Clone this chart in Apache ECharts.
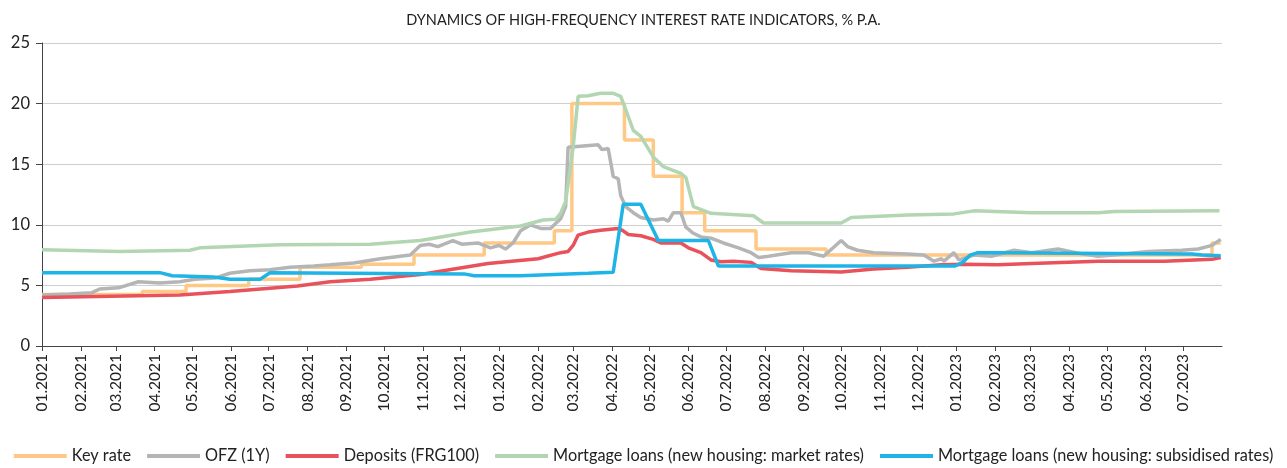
<!DOCTYPE html>
<html>
<head>
<meta charset="utf-8">
<script src="https://cdn.jsdelivr.net/npm/echarts@6/dist/echarts.min.js"></script>
<style>
  html, body { margin: 0; padding: 0; background: #fff; }
  #chart { width: 1287px; height: 468px; }
</style>
</head>
<body>
<div id="chart"></div>
<script>
// month tick labels on the x axis
const monthLabels = [
  '01.2021', '02.2021', '03.2021', '04.2021', '05.2021', '06.2021', '07.2021', '08.2021',
  '09.2021', '10.2021', '11.2021', '12.2021', '01.2022', '02.2022', '03.2022', '04.2022',
  '05.2022', '06.2022', '07.2022', '08.2022', '09.2022', '10.2022', '11.2022', '12.2022',
  '01.2023', '02.2023', '03.2023', '04.2023', '05.2023', '06.2023', '07.2023'
]

const seriesNames = [
  'Key rate',
  'OFZ (1Y)',
  'Deposits (FRG100)',
  'Mortgage loans (new housing: market rates)',
  'Mortgage loans (new housing: subsidised rates)'
]

// key rate: date of change, new level
const keyRate = [
  ['2021-01-01', 4.25], ['2021-03-22', 4.5], ['2021-04-26', 5], ['2021-06-15', 5.5],
  ['2021-07-26', 6.5], ['2021-09-13', 6.75], ['2021-10-25', 7.5], ['2021-12-20', 8.5],
  ['2022-02-14', 9.5], ['2022-02-28', 20], ['2022-04-11', 17], ['2022-05-04', 14],
  ['2022-05-27', 11], ['2022-06-14', 9.5], ['2022-07-25', 8], ['2022-09-19', 7.5],
  ['2023-07-24', 8.5], ['2023-07-31', 8.5]
]

const ofz = [
  ['2021-01-01', 4.2], ['2021-01-23', 4.3], ['2021-02-10', 4.4], ['2021-02-16', 4.7],
  ['2021-03-03', 4.8], ['2021-03-19', 5.3], ['2021-04-05', 5.2], ['2021-04-21', 5.3],
  ['2021-05-03', 5.5], ['2021-05-19', 5.6], ['2021-05-31', 6.0], ['2021-06-16', 6.2],
  ['2021-07-02', 6.3], ['2021-07-18', 6.5], ['2021-08-06', 6.6], ['2021-08-19', 6.7],
  ['2021-09-07', 6.85], ['2021-09-28', 7.2], ['2021-10-22', 7.5], ['2021-10-30', 8.3],
  ['2021-11-06', 8.4], ['2021-11-13', 8.2], ['2021-11-25', 8.7], ['2021-12-02', 8.4],
  ['2021-12-15', 8.5], ['2021-12-25', 8.1], ['2022-01-01', 8.3], ['2022-01-06', 8.0],
  ['2022-01-12', 8.5], ['2022-01-18', 9.5], ['2022-01-26', 10.0], ['2022-02-03', 9.7],
  ['2022-02-11', 9.7], ['2022-02-15', 10.1], ['2022-02-19', 10.5], ['2022-02-23', 11.5],
  ['2022-02-25', 16.4], ['2022-03-21', 16.6], ['2022-03-24', 16.2], ['2022-03-29', 16.3],
  ['2022-04-02', 14.0], ['2022-04-06', 13.8], ['2022-04-08', 12.4], ['2022-04-12', 11.5],
  ['2022-04-18', 11.0], ['2022-04-24', 10.6], ['2022-05-04', 10.4], ['2022-05-12', 10.5],
  ['2022-05-16', 10.3], ['2022-05-20', 11.0], ['2022-05-26', 11.0], ['2022-05-30', 9.8],
  ['2022-06-05', 9.3], ['2022-06-11', 9.0], ['2022-06-19', 8.9], ['2022-06-29', 8.5],
  ['2022-07-11', 8.1], ['2022-07-21', 7.7], ['2022-07-27', 7.3], ['2022-08-04', 7.4],
  ['2022-08-22', 7.7], ['2022-09-05', 7.7], ['2022-09-17', 7.4], ['2022-10-01', 8.7],
  ['2022-10-06', 8.2], ['2022-10-14', 7.9], ['2022-10-27', 7.7], ['2022-11-23', 7.6],
  ['2022-12-06', 7.5], ['2022-12-14', 7.0], ['2022-12-20', 7.2], ['2022-12-22', 7.0],
  ['2022-12-30', 7.7], ['2023-01-03', 7.1], ['2023-01-15', 7.5], ['2023-01-29', 7.4],
  ['2023-02-16', 7.9], ['2023-03-02', 7.7], ['2023-03-23', 8.0], ['2023-04-11', 7.6],
  ['2023-04-24', 7.4], ['2023-05-07', 7.5], ['2023-06-03', 7.8], ['2023-06-30', 7.9],
  ['2023-07-13', 8.0], ['2023-07-24', 8.3], ['2023-07-31', 8.8]
]

const deposits = [
  ['2021-01-01', 4.0], ['2021-04-21', 4.2], ['2021-05-31', 4.5], ['2021-07-24', 4.95],
  ['2021-08-19', 5.3], ['2021-09-20', 5.5], ['2021-10-30', 5.9], ['2021-12-23', 6.8],
  ['2022-02-01', 7.2], ['2022-02-19', 7.7], ['2022-02-25', 7.8], ['2022-03-01', 8.3],
  ['2022-03-05', 9.15], ['2022-03-13', 9.4], ['2022-03-23', 9.55], ['2022-04-06', 9.7],
  ['2022-04-10', 9.5], ['2022-04-14', 9.2], ['2022-04-24', 9.1], ['2022-05-04', 8.8],
  ['2022-05-10', 8.5], ['2022-05-26', 8.5], ['2022-06-01', 8.1], ['2022-06-11', 7.7],
  ['2022-06-19', 7.1], ['2022-06-27', 6.95], ['2022-07-07', 7.0], ['2022-07-21', 6.9],
  ['2022-07-29', 6.4], ['2022-08-22', 6.2], ['2022-10-01', 6.1], ['2022-10-27', 6.35],
  ['2022-11-23', 6.5], ['2022-12-20', 6.7], ['2023-01-07', 6.75], ['2023-02-03', 6.7],
  ['2023-03-02', 6.8], ['2023-04-24', 7.0], ['2023-06-16', 7.0], ['2023-07-24', 7.15],
  ['2023-07-31', 7.3]
]

const mortgageMarket = [
  ['2021-01-01', 7.95], ['2021-03-04', 7.8], ['2021-04-29', 7.9], ['2021-05-07', 8.1],
  ['2021-07-10', 8.35], ['2021-09-20', 8.4], ['2021-10-30', 8.7], ['2021-12-09', 9.4],
  ['2022-01-18', 9.9], ['2022-02-05', 10.4], ['2022-02-15', 10.45], ['2022-02-19', 10.95],
  ['2022-02-23', 11.9], ['2022-03-01', 16.4], ['2022-03-05', 20.6], ['2022-03-13', 20.65],
  ['2022-03-23', 20.85], ['2022-04-02', 20.85], ['2022-04-08', 20.6], ['2022-04-12', 19.5],
  ['2022-04-18', 17.8], ['2022-04-24', 17.3], ['2022-05-04', 15.6], ['2022-05-12', 14.8],
  ['2022-05-26', 14.25], ['2022-05-30', 13.9], ['2022-06-05', 11.5], ['2022-06-19', 10.95],
  ['2022-07-23', 10.75], ['2022-07-31', 10.15], ['2022-10-01', 10.15], ['2022-10-09', 10.6],
  ['2022-11-23', 10.8], ['2022-12-30', 10.9], ['2023-01-15', 11.15], ['2023-03-02', 11.0],
  ['2023-04-24', 11.0], ['2023-05-07', 11.1], ['2023-07-30', 11.15]
]

const mortgageSubsidised = [
  ['2021-01-01', 6.05], ['2021-04-05', 6.05], ['2021-04-15', 5.8], ['2021-05-18', 5.7],
  ['2021-05-31', 5.5], ['2021-06-24', 5.5], ['2021-07-02', 6.05], ['2021-12-04', 5.95],
  ['2021-12-12', 5.8], ['2022-01-18', 5.8], ['2022-03-13', 6.0], ['2022-04-02', 6.08],
  ['2022-04-10', 11.7], ['2022-04-24', 11.7], ['2022-05-08', 8.7], ['2022-06-17', 8.7],
  ['2022-06-25', 6.6], ['2022-12-31', 6.6], ['2023-01-06', 6.9], ['2023-01-12', 7.5],
  ['2023-01-18', 7.7], ['2023-02-01', 7.7], ['2023-07-08', 7.6], ['2023-07-16', 7.5],
  ['2023-07-31', 7.45]
]

const colors = ['#FFC985', '#B5B5B5', '#E8525A', '#B2D6B2', '#1FB4E6']
const fontFamily = 'Lato, "Noto Sans", sans-serif'

// dates -> timestamps, x axis is a plain value axis in ms
const ts = s => {
  const [y, m, d] = s.split('-').map(Number)
  return Date.UTC(y, m - 1, d)
}
const monthTicks = monthLabels.map(s => {
  const [m, y] = s.split('.')
  return Date.UTC(+y, +m - 1, 1)
})
const toXY = arr => arr.map(p => [ts(p[0]), p[1]])

function lineSeries(i, data, extra) {
  return Object.assign({
    name: seriesNames[i],
    type: 'line',
    data: toXY(data),
    showSymbol: false,
    symbol: 'none',
    lineStyle: { color: colors[i], width: 3.5 },
    itemStyle: { color: colors[i] }
  }, extra || {})
}

const chart = echarts.init(document.getElementById('chart'))
chart.setOption({
  animation: false,
  color: colors,
  textStyle: { fontFamily: fontFamily },
  title: {
    text: 'DYNAMICS OF HIGH-FREQUENCY INTEREST RATE INDICATORS, % P.A.',
    left: 'center',
    top: 8,
    textStyle: { fontSize: 14.5, fontWeight: 'normal', color: '#222', fontFamily: fontFamily }
  },
  legend: {
    left: 'center',
    bottom: -1,
    icon: 'rect',
    itemWidth: 53,
    itemHeight: 4,
    itemGap: 16,
    textStyle: { fontSize: 16.3, color: '#222', fontFamily: fontFamily },
    data: seriesNames
  },
  grid: { left: 42, right: 65, top: 43, bottom: 122, containLabel: false },
  xAxis: {
    type: 'value',
    min: ts('2021-01-01'),
    max: ts('2023-08-01'),
    axisLine: { show: true, lineStyle: { color: '#444', width: 1 } },
    axisTick: { show: true, customValues: monthTicks, length: 5, lineStyle: { color: '#444' } },
    axisLabel: {
      customValues: monthTicks,
      rotate: 90,
      fontSize: 15.5,
      color: '#222',
      margin: 8,
      formatter: v => monthLabels[monthTicks.indexOf(v)] || ''
    },
    splitLine: { show: false }
  },
  yAxis: {
    type: 'value',
    min: 0,
    max: 25,
    interval: 5,
    axisLine: { show: true, lineStyle: { color: '#444', width: 1 } },
    axisTick: { show: true, length: 6, lineStyle: { color: '#444' } },
    axisLabel: { fontSize: 16.5, color: '#222', margin: 12 },
    splitLine: { lineStyle: { color: '#CFCFCF', width: 1 } }
  },
  series: [
    lineSeries(0, keyRate, { step: 'end' }),
    lineSeries(1, ofz),
    lineSeries(2, deposits),
    lineSeries(3, mortgageMarket),
    lineSeries(4, mortgageSubsidised)
  ]
})
</script>
</body>
</html>
